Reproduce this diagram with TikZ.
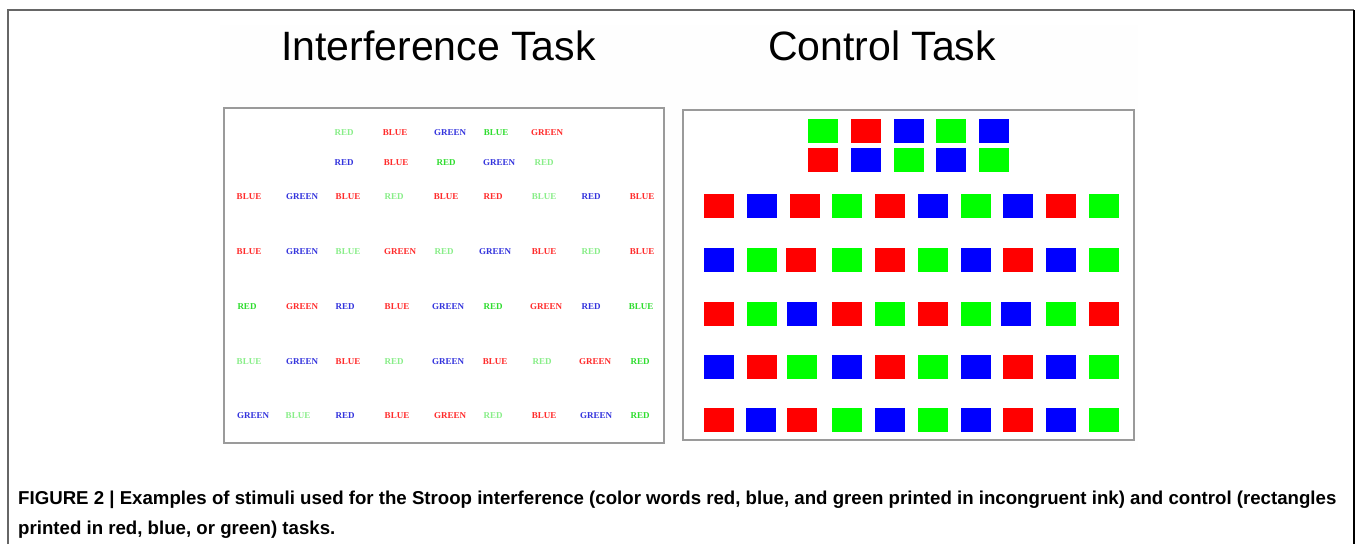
\documentclass[tikz,border=0pt]{standalone}
\usepackage{fontspec}
\setmainfont{Liberation Sans}
\newfontfamily\wordfont{Liberation Serif}
\definecolor{wred}{HTML}{FF2B2B}
\definecolor{wblue}{HTML}{3333DD}
\definecolor{wgreen}{HTML}{2FDD2F}
\definecolor{wpale}{HTML}{88EE88}
\definecolor{sqred}{HTML}{FF0000}
\definecolor{sqblue}{HTML}{0000FF}
\definecolor{sqgreen}{HTML}{00FF00}
\definecolor{panelgray}{HTML}{9A9A9A}
\begin{document}
\begin{tikzpicture}[x=1pt,y=-1pt,
  word/.style={inner sep=0pt,font=\wordfont\bfseries\fontsize{9}{10}\selectfont},
  sq/.style={minimum width=30pt,minimum height=24pt,inner sep=0pt,draw=none},
  panel/.style={draw=panelgray,line width=1.5pt,fill=white},
  title/.style={inner sep=0pt,anchor=base,font=\fontsize{41}{45}\selectfont},
  caption/.style={inner sep=0pt,anchor=base west,font=\bfseries\fontsize{18.65}{21}\selectfont}]
\useasboundingbox (0,0) rectangle (1355,544);
% outer frame
\draw[draw=black!60,line width=2pt] (8,544) -- (8,10) -- (1354,10);
\draw[draw=black,line width=2pt] (1354,10) -- (1354,544);
% image background
\fill[black!0.5] (220,25) rectangle (1138,450);
% titles
\node[title] (t1) at (438.5,60) {Interference Task};
\node[title] (t2) at (882,60) {Control Task};
% panels
\node[panel,minimum width=440pt,minimum height=335pt,inner sep=0pt] (p1) at (444,275.5) {};
\node[panel,minimum width=451pt,minimum height=330pt,inner sep=0pt] (p2) at (908.5,275) {};
% interference words
\foreach \x/\w/\c [count=\i] in {344/RED/wpale,395/BLUE/wred,450/GREEN/wblue,496/BLUE/wgreen,547/GREEN/wred}
  \node[word,text=\c] (wa\i) at (\x,133) {\w};
\foreach \x/\w/\c [count=\i] in {344/RED/wblue,396/BLUE/wred,446/RED/wgreen,499/GREEN/wblue,544/RED/wpale}
  \node[word,text=\c] (wb\i) at (\x,163) {\w};
\foreach \x/\w/\c [count=\i] in {249/BLUE/wred,302/GREEN/wblue,348/BLUE/wred,394/RED/wpale,446/BLUE/wred,493/RED/wred,544/BLUE/wpale,591/RED/wblue,642/BLUE/wred}
  \node[word,text=\c] (wc\i) at (\x,197) {\w};
\foreach \x/\w/\c [count=\i] in {249/BLUE/wred,302/GREEN/wblue,348/BLUE/wpale,400/GREEN/wred,444/RED/wpale,495/GREEN/wblue,544/BLUE/wred,591/RED/wpale,642/BLUE/wred}
  \node[word,text=\c] (wd\i) at (\x,252) {\w};
\foreach \x/\w/\c [count=\i] in {247/RED/wgreen,302/GREEN/wred,345/RED/wblue,397/BLUE/wred,448/GREEN/wblue,493/RED/wgreen,546/GREEN/wred,591/RED/wblue,641/BLUE/wgreen}
  \node[word,text=\c] (we\i) at (\x,307) {\w};
\foreach \x/\w/\c [count=\i] in {249/BLUE/wpale,302/GREEN/wblue,348/BLUE/wred,394/RED/wpale,448/GREEN/wblue,495/BLUE/wred,542/RED/wpale,595/GREEN/wred,640/RED/wgreen}
  \node[word,text=\c] (wf\i) at (\x,362) {\w};
\foreach \x/\w/\c [count=\i] in {253/GREEN/wblue,298/BLUE/wpale,345/RED/wblue,397/BLUE/wred,450/GREEN/wred,493/RED/wpale,544/BLUE/wred,596/GREEN/wblue,640/RED/wgreen}
  \node[word,text=\c] (wg\i) at (\x,416) {\w};
% control squares, top two rows
\foreach \x/\c [count=\i] in {823/sqgreen,865.5/sqred,908.5/sqblue,951/sqgreen,994/sqblue}
  \node[sq,fill=\c] (sa\i) at (\x,130.5) {};
\foreach \x/\c [count=\i] in {823/sqred,865.5/sqblue,908.5/sqgreen,951/sqblue,994/sqgreen}
  \node[sq,fill=\c] (sb\i) at (\x,160) {};
% control squares, main rows
\foreach \x/\c [count=\i] in {719/sqred,762/sqblue,805/sqred,847/sqgreen,890/sqred,932.5/sqblue,975.5/sqgreen,1018/sqblue,1061/sqred,1104/sqgreen}
  \node[sq,fill=\c] (sc\i) at (\x,206) {};
\foreach \x/\c [count=\i] in {719/sqblue,762/sqgreen,801/sqred,847/sqgreen,890/sqred,932.5/sqgreen,975.5/sqblue,1018/sqred,1061/sqblue,1104/sqgreen}
  \node[sq,fill=\c] (sd\i) at (\x,260) {};
\foreach \x/\c [count=\i] in {719/sqred,762/sqgreen,802/sqblue,847/sqred,890/sqgreen,932.5/sqred,975.5/sqgreen,1016/sqblue,1061/sqgreen,1104/sqred}
  \node[sq,fill=\c] (se\i) at (\x,313.5) {};
\foreach \x/\c [count=\i] in {719/sqblue,762/sqred,802/sqgreen,847/sqblue,890/sqred,932.5/sqgreen,975.5/sqblue,1018/sqred,1061/sqblue,1104/sqgreen}
  \node[sq,fill=\c] (sf\i) at (\x,367) {};
\foreach \x/\c [count=\i] in {719/sqred,761/sqblue,802/sqred,847/sqgreen,890/sqblue,932.5/sqgreen,975.5/sqblue,1018/sqred,1061/sqblue,1104/sqgreen}
  \node[sq,fill=\c] (sg\i) at (\x,420) {};
% caption
\node[caption] (c1) at (18,504.5) {FIGURE 2 | Examples of stimuli used for the Stroop interference (color words red, blue, and green printed in incongruent ink) and control (rectangles};
\node[caption] (c2) at (18,534) {printed in red, blue, or green) tasks.};
\end{tikzpicture}
\end{document}
